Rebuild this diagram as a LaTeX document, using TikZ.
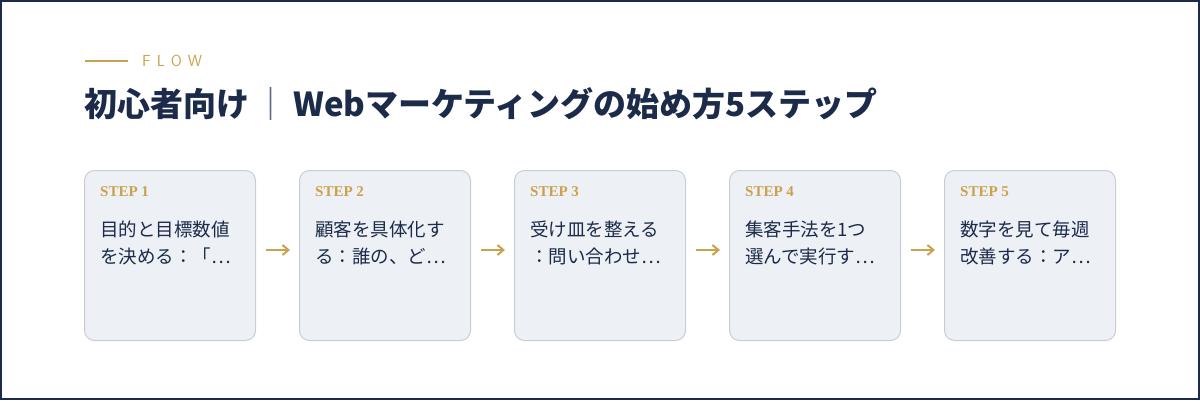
\documentclass[tikz,border=0pt]{standalone}
\usepackage{fontspec}
\setmainfont{Liberation Serif}
\newfontfamily\cjk{Noto Sans CJK JP}
\newfontfamily\cjkmed{Noto Sans CJK JP Medium}
\usetikzlibrary{positioning,arrows.meta}
\definecolor{navy}{HTML}{1C2B4A}
\definecolor{gold}{HTML}{C9A24E}
\definecolor{boxfill}{HTML}{EDF0F5}
\definecolor{boxline}{HTML}{C8CCD6}
\tikzset{
  card/.style={draw=boxline, fill=boxfill, rounded corners=10pt, line width=1pt,
    minimum width=171pt, minimum height=170pt, anchor=north west},
  steplabel/.style={anchor=west, text=gold, font=\bfseries\fontsize{15}{16}\selectfont, inner sep=0pt},
  body/.style={anchor=west, text=navy, inner sep=0pt, align=left,
    font=\cjk\fontsize{18.5}{27}\selectfont},
  flowarrow/.style={-{Straight Barb[length=6pt,width=10pt]}, draw=gold, line width=2pt,
    shorten <=10pt, shorten >=9pt}
}
\begin{document}
\begin{tikzpicture}[x=1pt,y=-1pt]
\useasboundingbox (0,0) rectangle (1200,400);
\draw[navy, line width=2pt] (1,1) rectangle (1199,399);

% header
\coordinate (rulea) at (85,61);
\coordinate (ruleb) at (128,61);
\draw[gold, line width=1.5pt] (rulea) -- (ruleb);
\node[anchor=west, text=gold, inner sep=0pt, font=\sffamily\fontsize{16}{16}\selectfont] (flow) at (142,61)
  {F\hspace{6pt}L\hspace{6pt}O\hspace{6pt}W};
\node[anchor=west, text=navy, inner sep=0pt, font=\cjk\bfseries\fontsize{33}{34}\selectfont] (title) at (84,104)
  {初心者向け\,{\color{navy!70}｜}\,Webマーケティングの始め方5ステップ};

% steps
\foreach \i/\first/\second [count=\n from 0] in {
  1/目的と目標数値/を決める：「…,
  2/顧客を具体化す/る：誰の、ど…,
  3/受け皿を整える/：問い合わせ…,
  4/集客手法を1つ/選んで実行す…,
  5/数字を見て毎週/改善する：ア…}
{
  \node[card] (card\i) at (84+215*\n,170) {};
  \node[steplabel] (step\i) at (100+215*\n,192) {STEP \i};
  \node[body] (text\i) at (100+215*\n,243) {\first\\\second};
}
\foreach \a/\b in {1/2,2/3,3/4,4/5}
  \draw[flowarrow] (card\a.east |- 0,250) -- (card\b.west |- 0,250);
\end{tikzpicture}
\end{document}
